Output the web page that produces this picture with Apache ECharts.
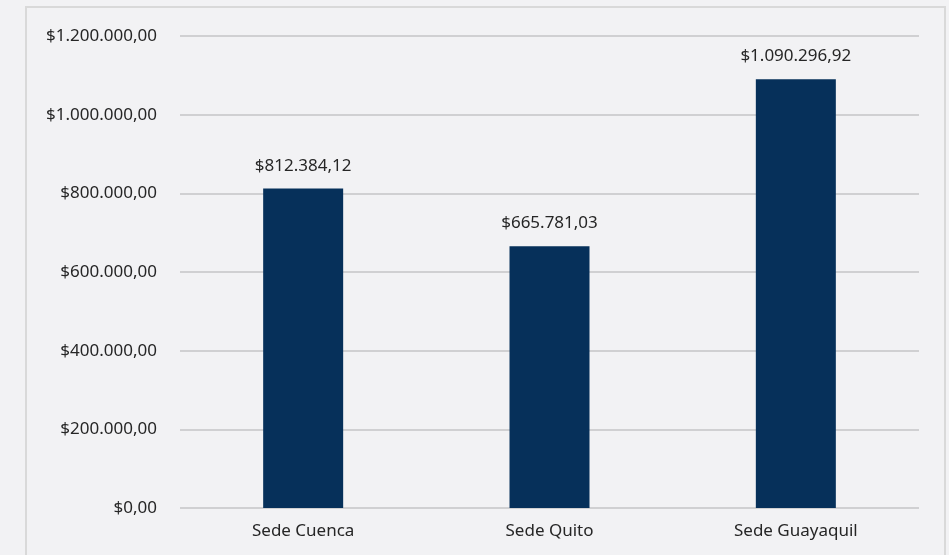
<!DOCTYPE html>
<html><head><meta charset="utf-8">
<script src="https://cdn.jsdelivr.net/npm/echarts@6/dist/echarts.min.js"></script>
<style>html,body{margin:0;padding:0;background:#f2f2f4;}#c{width:949px;height:555px;}</style>
</head><body><div id="c"></div>
<script>
const categories = ["Sede Cuenca", "Sede Quito", "Sede Guayaquil"];
const values = [812384.12, 665781.03, 1090296.92];
const yMin = 0, yMax = 1200000, yStep = 200000;

function fmt(v){
  const parts = v.toFixed(2).split('.');
  const int = parts[0].replace(/\B(?=(\d{3})+(?!\d))/g, '.');
  return '$' + int + ',' + parts[1];
}
const FF = 'Noto Sans';
const chart = echarts.init(document.getElementById('c'));
chart.setOption({
  backgroundColor: '#f2f2f4',
  animation: false,
  textStyle: {fontFamily: FF},
  graphic: [{type:'rect', shape:{x:26, y:7, width:919, height:600}, style:{fill:'none', stroke:'#d9d9d9', lineWidth:2}, silent:true}],
  grid: {left:180, right:30, top:36, bottom:47},
  xAxis: {type:'category', data:categories,
    axisLine:{show:false}, axisTick:{show:false},
    axisLabel:{color:'#262626', fontSize:17, margin:15, fontFamily:FF}},
  yAxis: {type:'value', min:yMin, max:yMax, interval:yStep,
    axisLine:{show:false}, axisTick:{show:false},
    splitLine:{lineStyle:{color:'#d0d0d2', width:2}},
    axisLabel:{formatter:fmt, color:'#262626', fontSize:17, margin:23, fontFamily:FF}},
  series: [{type:'bar', data:values, barWidth:80,
    itemStyle:{color:'#06305a'},
    label:{show:true, position:'top', distance:14, formatter:p=>fmt(p.value), color:'#262626', fontSize:17, fontFamily:FF}}]
});
</script></body></html>
